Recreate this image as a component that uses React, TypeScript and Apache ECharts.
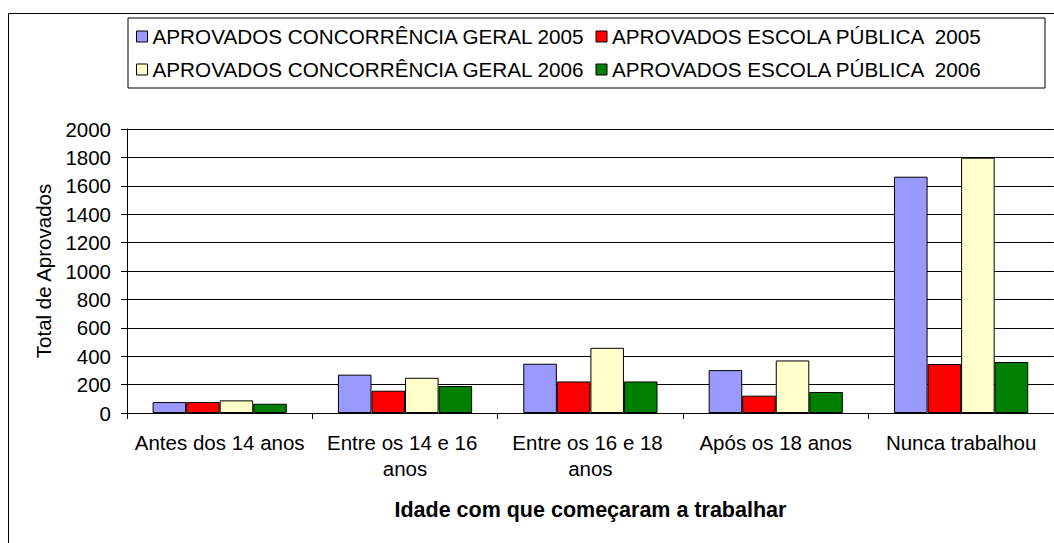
import React, { useEffect, useRef } from "react";
import * as echarts from "echarts";

const categories = [
  "Antes dos 14 anos",
  "Entre os 14 e 16 anos",
  "Entre os 16 e 18 anos",
  "Após os 18 anos",
  "Nunca trabalhou",
];

const seriesNames = [
  "APROVADOS CONCORRÊNCIA GERAL 2005",
  "APROVADOS ESCOLA PÚBLICA  2005",
  "APROVADOS CONCORRÊNCIA GERAL 2006",
  "APROVADOS ESCOLA PÚBLICA  2006",
];

const geral2005 = [77, 270, 347, 302, 1664];
const publica2005 = [77, 157, 222, 122, 345];
const geral2006 = [89, 248, 459, 370, 1798];
const publica2006 = [65, 190, 222, 148, 359];

const seriesColors = ["#9999FF", "#FF0000", "#FFFFCC", "#008000"];

const yTicks = { min: 0, max: 2000, interval: 200 };

const FONT = "'Liberation Sans', Arial, sans-serif";

export default function App() {
  const ref = useRef<HTMLDivElement>(null);

  useEffect(() => {
    if (!ref.current) return;
    const chart = echarts.init(ref.current, null, { renderer: "svg" });
    const values = [geral2005, publica2005, geral2006, publica2006];
    chart.setOption({
      animation: false,
      backgroundColor: "#ffffff",
      textStyle: { fontFamily: FONT, color: "#000" },
      graphic: [
        {
          type: "rect",
          z: -1,
          shape: { x: 8.5, y: 13.5, width: 1100, height: 600 },
          style: { fill: "none", stroke: "#000", lineWidth: 1 },
          silent: true,
        },
      ],
      legend: {
        left: 128,
        top: 18,
        width: 860,
        orient: "horizontal",
        padding: [7, 62, 7, 8],
        borderColor: "#000",
        borderWidth: 1,
        itemWidth: 11,
        itemHeight: 11,
        itemGap: 10,
        icon: "rect",
        itemStyle: { borderColor: "#000", borderWidth: 1 },
        textStyle: {
          fontFamily: FONT,
          fontSize: 20.7,
          color: "#000",
          lineHeight: 23,
        },
        data: seriesNames,
      },
      grid: {
        left: 127,
        top: 129,
        width: 928,
        height: 284,
        containLabel: false,
      },
      xAxis: {
        type: "category",
        data: categories,
        name: "Idade com que começaram a trabalhar",
        nameLocation: "middle",
        nameGap: 86,
        nameTextStyle: {
          fontFamily: FONT,
          fontSize: 21.5,
          fontWeight: "bold",
          color: "#000",
        },
        axisLine: { lineStyle: { color: "#000", width: 1 } },
        axisTick: { show: true, length: 6, lineStyle: { color: "#000" } },
        axisLabel: {
          fontFamily: FONT,
          fontSize: 20.5,
          color: "#000",
          margin: 16,
          lineHeight: 26,
          width: 180,
          overflow: "break",
          interval: 0,
        },
        splitLine: { show: false },
      },
      yAxis: {
        type: "value",
        min: yTicks.min,
        max: yTicks.max,
        interval: yTicks.interval,
        name: "Total de Aprovados",
        nameLocation: "middle",
        nameGap: 67,
        nameRotate: 90,
        nameTextStyle: { fontFamily: FONT, fontSize: 20.5, color: "#000" },
        axisLine: { show: true, lineStyle: { color: "#000", width: 1 } },
        axisTick: { show: true, length: 6, lineStyle: { color: "#000" } },
        axisLabel: {
          fontFamily: FONT,
          fontSize: 20.5,
          color: "#000",
          margin: 16,
          formatter: (v: number) => String(v),
        },
        splitLine: { show: true, lineStyle: { color: "#000", width: 1 } },
      },
      series: seriesNames.map((name, i) => ({
        name,
        type: "bar",
        data: values[i],
        barGap: "0%",
        barCategoryGap: "27.6%",
        itemStyle: {
          color: seriesColors[i],
          borderColor: "#000",
          borderWidth: 1,
        },
      })),
    });
    return () => chart.dispose();
  }, []);

  return (
    <div
      ref={ref}
      style={{
        position: "fixed",
        left: 0,
        top: 0,
        width: 1054,
        height: 543,
        background: "#fff",
      }}
    />
  );
}
